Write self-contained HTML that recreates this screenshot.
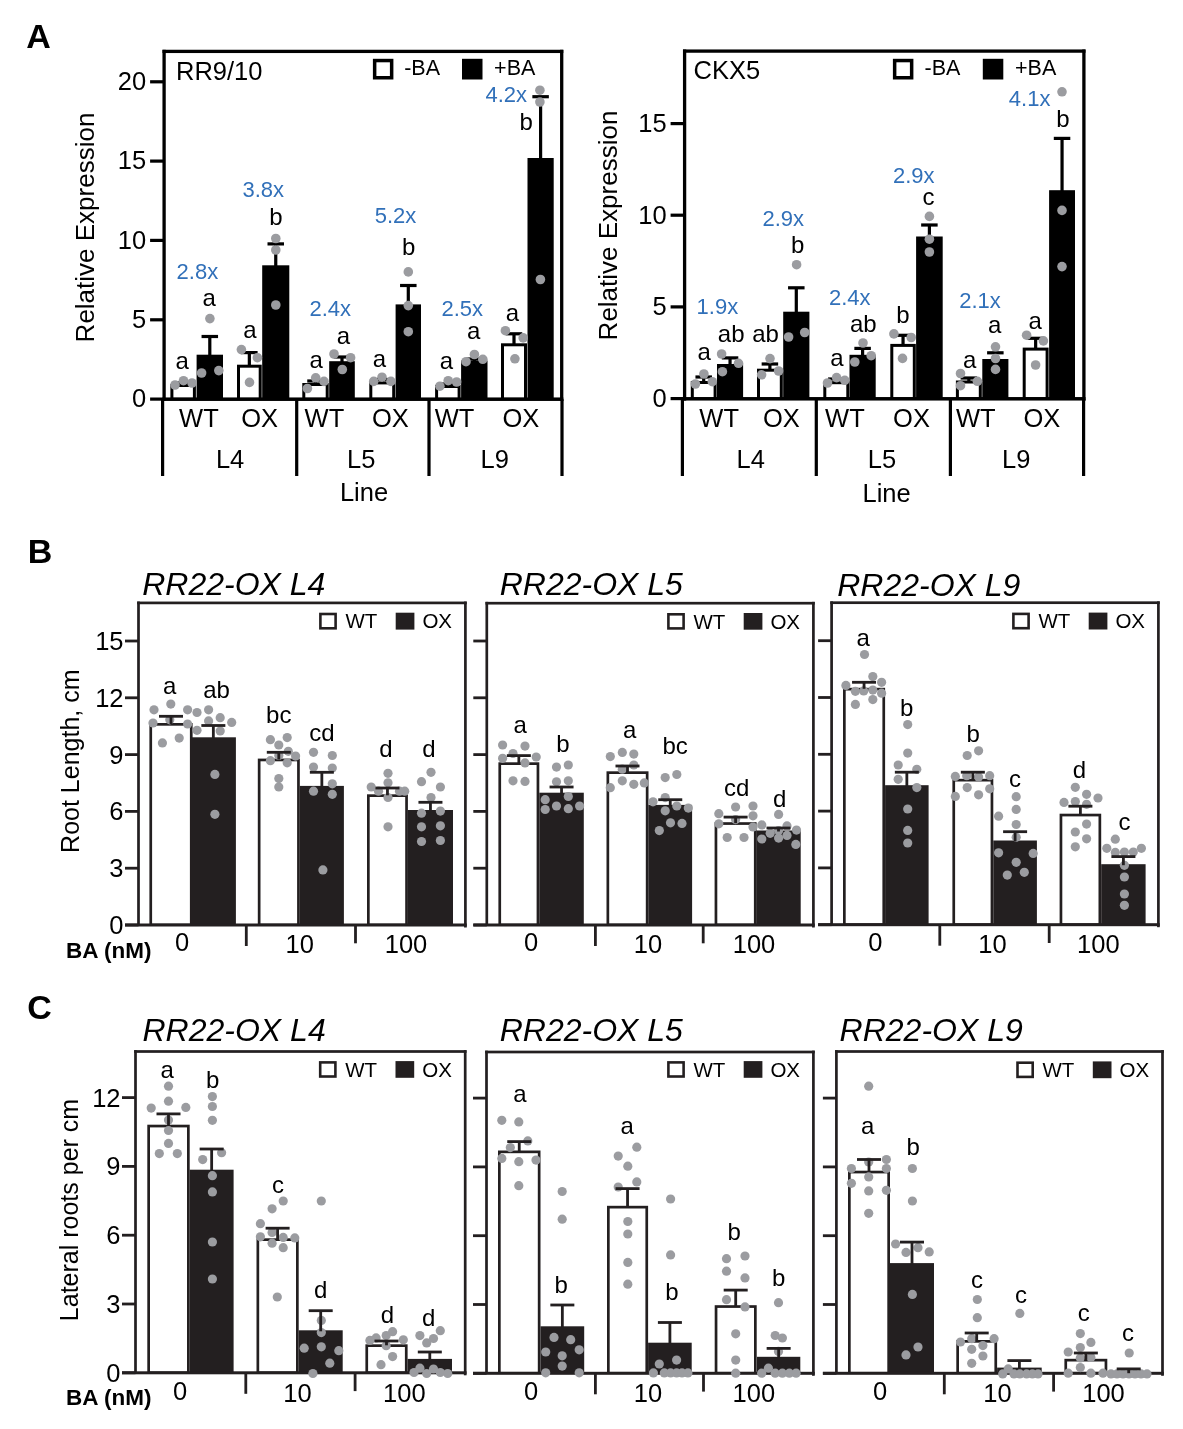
<!DOCTYPE html>
<html><head><meta charset="utf-8"><style>
html,body{margin:0;padding:0;background:#fff;overflow:hidden;width:1183px;height:1429px;}
svg{display:block;will-change:transform;}
text{font-family:"Liberation Sans", sans-serif;}
</style></head><body>
<svg width="1183" height="1429" viewBox="0 0 1183 1429">
<rect x="0" y="0" width="1183" height="1429" fill="#fff"/>
<text x="26.20" y="47.90" font-size="34" text-anchor="start" fill="#000" font-weight="bold" font-style="normal" >A</text>
<text x="27.80" y="562.70" font-size="34" text-anchor="start" fill="#000" font-weight="bold" font-style="normal" >B</text>
<text x="27.20" y="1019.20" font-size="34" text-anchor="start" fill="#000" font-weight="bold" font-style="normal" >C</text>
<rect x="170.40" y="384.00" width="25.50" height="15.20" fill="#000"/>
<rect x="173.40" y="387.00" width="19.50" height="10.80" fill="#fff"/>
<rect x="196.60" y="354.70" width="26.40" height="44.50" fill="#000"/>
<rect x="237.00" y="364.70" width="24.70" height="34.50" fill="#000"/>
<rect x="240.00" y="367.70" width="18.70" height="30.10" fill="#fff"/>
<rect x="262.20" y="265.30" width="27.10" height="133.90" fill="#000"/>
<rect x="302.30" y="383.00" width="26.40" height="16.20" fill="#000"/>
<rect x="305.30" y="386.00" width="20.40" height="11.80" fill="#fff"/>
<rect x="329.20" y="361.20" width="25.60" height="38.00" fill="#000"/>
<rect x="369.30" y="381.40" width="25.90" height="17.80" fill="#000"/>
<rect x="372.30" y="384.40" width="19.90" height="13.40" fill="#fff"/>
<rect x="395.60" y="304.40" width="25.40" height="94.80" fill="#000"/>
<rect x="435.10" y="385.00" width="25.50" height="14.20" fill="#000"/>
<rect x="438.10" y="388.00" width="19.50" height="9.80" fill="#fff"/>
<rect x="461.10" y="360.50" width="26.40" height="38.70" fill="#000"/>
<rect x="501.00" y="343.30" width="26.00" height="55.90" fill="#000"/>
<rect x="504.00" y="346.30" width="20.00" height="51.50" fill="#fff"/>
<rect x="527.50" y="158.00" width="26.20" height="241.20" fill="#000"/>
<rect x="162.45" y="49.80" width="3.30" height="351.20" fill="#000"/>
<rect x="560.05" y="49.80" width="3.30" height="351.20" fill="#000"/>
<rect x="162.50" y="49.75" width="400.80" height="3.30" fill="#000"/>
<rect x="162.50" y="397.45" width="400.80" height="3.50" fill="#000"/>
<rect x="181.55" y="383.00" width="3.20" height="2.00" fill="#000"/>
<rect x="174.90" y="381.40" width="16.50" height="3.20" fill="#000"/>
<text x="182.20" y="369.00" font-size="24" text-anchor="middle" fill="#000" font-weight="normal" font-style="normal" >a</text>
<rect x="208.20" y="336.50" width="3.20" height="19.20" fill="#000"/>
<rect x="201.55" y="334.90" width="16.50" height="3.20" fill="#000"/>
<text x="209.10" y="306.00" font-size="24" text-anchor="middle" fill="#000" font-weight="normal" font-style="normal" >a</text>
<rect x="247.75" y="352.60" width="3.20" height="13.10" fill="#000"/>
<rect x="241.10" y="351.00" width="16.50" height="3.20" fill="#000"/>
<text x="250.00" y="338.00" font-size="24" text-anchor="middle" fill="#000" font-weight="normal" font-style="normal" >a</text>
<rect x="274.15" y="243.90" width="3.20" height="22.40" fill="#000"/>
<rect x="267.50" y="242.30" width="16.50" height="3.20" fill="#000"/>
<text x="276.00" y="225.40" font-size="24" text-anchor="middle" fill="#000" font-weight="normal" font-style="normal" >b</text>
<rect x="313.90" y="381.00" width="3.20" height="3.00" fill="#000"/>
<rect x="307.25" y="379.40" width="16.50" height="3.20" fill="#000"/>
<text x="316.30" y="368.30" font-size="24" text-anchor="middle" fill="#000" font-weight="normal" font-style="normal" >a</text>
<rect x="340.40" y="357.00" width="3.20" height="5.20" fill="#000"/>
<rect x="333.75" y="355.40" width="16.50" height="3.20" fill="#000"/>
<text x="343.50" y="343.50" font-size="24" text-anchor="middle" fill="#000" font-weight="normal" font-style="normal" >a</text>
<rect x="380.65" y="379.50" width="3.20" height="2.90" fill="#000"/>
<rect x="374.00" y="377.90" width="16.50" height="3.20" fill="#000"/>
<text x="379.50" y="366.60" font-size="24" text-anchor="middle" fill="#000" font-weight="normal" font-style="normal" >a</text>
<rect x="406.70" y="285.50" width="3.20" height="19.90" fill="#000"/>
<rect x="400.05" y="283.90" width="16.50" height="3.20" fill="#000"/>
<text x="408.60" y="254.70" font-size="24" text-anchor="middle" fill="#000" font-weight="normal" font-style="normal" >b</text>
<rect x="446.25" y="384.00" width="3.20" height="2.00" fill="#000"/>
<rect x="439.60" y="382.40" width="16.50" height="3.20" fill="#000"/>
<text x="446.50" y="368.80" font-size="24" text-anchor="middle" fill="#000" font-weight="normal" font-style="normal" >a</text>
<rect x="472.70" y="359.00" width="3.20" height="2.50" fill="#000"/>
<rect x="466.05" y="357.40" width="16.50" height="3.20" fill="#000"/>
<text x="473.60" y="339.00" font-size="24" text-anchor="middle" fill="#000" font-weight="normal" font-style="normal" >a</text>
<rect x="512.40" y="333.80" width="3.20" height="10.50" fill="#000"/>
<rect x="505.75" y="332.20" width="16.50" height="3.20" fill="#000"/>
<text x="512.50" y="321.00" font-size="24" text-anchor="middle" fill="#000" font-weight="normal" font-style="normal" >a</text>
<rect x="539.00" y="96.70" width="3.20" height="62.30" fill="#000"/>
<rect x="532.35" y="95.10" width="16.50" height="3.20" fill="#000"/>
<text x="526.20" y="129.50" font-size="24" text-anchor="middle" fill="#000" font-weight="normal" font-style="normal" >b</text>
<circle cx="175.00" cy="385.00" r="4.8" fill="#9b9ca0"/>
<circle cx="183.50" cy="380.70" r="4.8" fill="#9b9ca0"/>
<circle cx="192.00" cy="383.00" r="4.8" fill="#9b9ca0"/>
<circle cx="201.60" cy="373.00" r="4.8" fill="#9b9ca0"/>
<circle cx="218.80" cy="370.60" r="4.8" fill="#9b9ca0"/>
<circle cx="209.90" cy="318.60" r="4.8" fill="#9b9ca0"/>
<circle cx="241.40" cy="349.60" r="4.8" fill="#9b9ca0"/>
<circle cx="257.40" cy="357.70" r="4.8" fill="#9b9ca0"/>
<circle cx="249.50" cy="382.40" r="4.8" fill="#9b9ca0"/>
<circle cx="275.80" cy="238.50" r="4.8" fill="#9b9ca0"/>
<circle cx="275.80" cy="250.00" r="4.8" fill="#9b9ca0"/>
<circle cx="275.80" cy="305.00" r="4.8" fill="#9b9ca0"/>
<circle cx="307.40" cy="388.50" r="4.8" fill="#9b9ca0"/>
<circle cx="315.70" cy="377.80" r="4.8" fill="#9b9ca0"/>
<circle cx="324.00" cy="381.40" r="4.8" fill="#9b9ca0"/>
<circle cx="334.00" cy="354.00" r="4.8" fill="#9b9ca0"/>
<circle cx="350.60" cy="357.70" r="4.8" fill="#9b9ca0"/>
<circle cx="342.30" cy="369.50" r="4.8" fill="#9b9ca0"/>
<circle cx="373.70" cy="381.40" r="4.8" fill="#9b9ca0"/>
<circle cx="382.00" cy="377.20" r="4.8" fill="#9b9ca0"/>
<circle cx="390.90" cy="381.40" r="4.8" fill="#9b9ca0"/>
<circle cx="408.30" cy="271.90" r="4.8" fill="#9b9ca0"/>
<circle cx="408.30" cy="305.60" r="4.8" fill="#9b9ca0"/>
<circle cx="408.30" cy="331.70" r="4.8" fill="#9b9ca0"/>
<circle cx="439.90" cy="386.20" r="4.8" fill="#9b9ca0"/>
<circle cx="448.20" cy="380.70" r="4.8" fill="#9b9ca0"/>
<circle cx="456.60" cy="382.00" r="4.8" fill="#9b9ca0"/>
<circle cx="466.00" cy="361.70" r="4.8" fill="#9b9ca0"/>
<circle cx="474.40" cy="354.50" r="4.8" fill="#9b9ca0"/>
<circle cx="482.80" cy="359.30" r="4.8" fill="#9b9ca0"/>
<circle cx="505.40" cy="330.70" r="4.8" fill="#9b9ca0"/>
<circle cx="523.20" cy="337.90" r="4.8" fill="#9b9ca0"/>
<circle cx="514.90" cy="358.80" r="4.8" fill="#9b9ca0"/>
<circle cx="539.90" cy="90.20" r="4.8" fill="#9b9ca0"/>
<circle cx="539.90" cy="102.00" r="4.8" fill="#9b9ca0"/>
<circle cx="540.40" cy="279.50" r="4.8" fill="#9b9ca0"/>
<text x="197.40" y="279.30" font-size="22" text-anchor="middle" fill="#3170b9" font-weight="normal" font-style="normal" >2.8x</text>
<text x="263.30" y="197.20" font-size="22" text-anchor="middle" fill="#3170b9" font-weight="normal" font-style="normal" >3.8x</text>
<text x="330.20" y="316.00" font-size="22" text-anchor="middle" fill="#3170b9" font-weight="normal" font-style="normal" >2.4x</text>
<text x="395.50" y="223.30" font-size="22" text-anchor="middle" fill="#3170b9" font-weight="normal" font-style="normal" >5.2x</text>
<text x="462.20" y="315.50" font-size="22" text-anchor="middle" fill="#3170b9" font-weight="normal" font-style="normal" >2.5x</text>
<text x="506.30" y="101.70" font-size="22" text-anchor="middle" fill="#3170b9" font-weight="normal" font-style="normal" >4.2x</text>
<rect x="150.10" y="80.20" width="14.00" height="3.20" fill="#000"/>
<text x="146.10" y="90.10" font-size="25.5" text-anchor="end" fill="#000" font-weight="normal" font-style="normal" >20</text>
<rect x="150.10" y="159.50" width="14.00" height="3.20" fill="#000"/>
<text x="146.10" y="169.40" font-size="25.5" text-anchor="end" fill="#000" font-weight="normal" font-style="normal" >15</text>
<rect x="150.10" y="238.80" width="14.00" height="3.20" fill="#000"/>
<text x="146.10" y="248.70" font-size="25.5" text-anchor="end" fill="#000" font-weight="normal" font-style="normal" >10</text>
<rect x="150.10" y="318.20" width="14.00" height="3.20" fill="#000"/>
<text x="146.10" y="328.10" font-size="25.5" text-anchor="end" fill="#000" font-weight="normal" font-style="normal" >5</text>
<rect x="150.10" y="397.50" width="14.00" height="3.20" fill="#000"/>
<text x="146.10" y="407.40" font-size="25.5" text-anchor="end" fill="#000" font-weight="normal" font-style="normal" >0</text>
<text x="0" y="0" font-size="26" text-anchor="middle" transform="translate(94,227.5) rotate(-90)">Relative Expression</text>
<text x="176.00" y="80.00" font-size="25.5" text-anchor="start" fill="#000" font-weight="normal" font-style="normal" >RR9/10</text>
<rect x="372.90" y="58.80" width="20.50" height="20.70" fill="#000"/>
<rect x="376.40" y="62.30" width="13.50" height="13.70" fill="#fff"/>
<text x="404.20" y="75.20" font-size="21.5" text-anchor="start" fill="#000" font-weight="normal" font-style="normal" >-BA</text>
<rect x="462.00" y="58.80" width="20.50" height="20.70" fill="#000"/>
<text x="494.10" y="75.20" font-size="21.5" text-anchor="start" fill="#000" font-weight="normal" font-style="normal" >+BA</text>
<rect x="161.00" y="399.20" width="3.20" height="76.80" fill="#000"/>
<rect x="295.10" y="399.20" width="3.20" height="76.80" fill="#000"/>
<rect x="427.40" y="399.20" width="3.20" height="76.80" fill="#000"/>
<rect x="560.40" y="399.20" width="3.20" height="76.80" fill="#000"/>
<text x="198.90" y="426.80" font-size="25.5" text-anchor="middle" fill="#000" font-weight="normal" font-style="normal" >WT</text>
<text x="259.70" y="426.80" font-size="25.5" text-anchor="middle" fill="#000" font-weight="normal" font-style="normal" >OX</text>
<text x="324.40" y="426.80" font-size="25.5" text-anchor="middle" fill="#000" font-weight="normal" font-style="normal" >WT</text>
<text x="390.40" y="426.80" font-size="25.5" text-anchor="middle" fill="#000" font-weight="normal" font-style="normal" >OX</text>
<text x="454.50" y="427.00" font-size="25.5" text-anchor="middle" fill="#000" font-weight="normal" font-style="normal" >WT</text>
<text x="520.80" y="427.00" font-size="25.5" text-anchor="middle" fill="#000" font-weight="normal" font-style="normal" >OX</text>
<text x="230.10" y="468.40" font-size="25.5" text-anchor="middle" fill="#000" font-weight="normal" font-style="normal" >L4</text>
<text x="361.30" y="468.40" font-size="25.5" text-anchor="middle" fill="#000" font-weight="normal" font-style="normal" >L5</text>
<text x="494.80" y="468.00" font-size="25.5" text-anchor="middle" fill="#000" font-weight="normal" font-style="normal" >L9</text>
<text x="364.00" y="500.80" font-size="25.5" text-anchor="middle" fill="#000" font-weight="normal" font-style="normal" >Line</text>
<rect x="690.80" y="381.00" width="25.80" height="17.80" fill="#000"/>
<rect x="693.80" y="384.00" width="19.80" height="13.40" fill="#fff"/>
<rect x="717.00" y="364.00" width="26.10" height="34.80" fill="#000"/>
<rect x="757.00" y="368.70" width="25.80" height="30.10" fill="#000"/>
<rect x="760.00" y="371.70" width="19.80" height="25.70" fill="#fff"/>
<rect x="783.20" y="311.70" width="26.20" height="87.10" fill="#000"/>
<rect x="823.30" y="381.20" width="26.00" height="17.60" fill="#000"/>
<rect x="826.30" y="384.20" width="20.00" height="13.20" fill="#fff"/>
<rect x="849.50" y="354.80" width="26.20" height="44.00" fill="#000"/>
<rect x="890.30" y="343.90" width="25.50" height="54.90" fill="#000"/>
<rect x="893.30" y="346.90" width="19.50" height="50.50" fill="#fff"/>
<rect x="916.10" y="236.50" width="26.60" height="162.30" fill="#000"/>
<rect x="955.90" y="380.50" width="25.90" height="18.30" fill="#000"/>
<rect x="958.90" y="383.50" width="19.90" height="13.90" fill="#fff"/>
<rect x="982.30" y="359.00" width="26.10" height="39.80" fill="#000"/>
<rect x="1022.70" y="347.60" width="25.90" height="51.20" fill="#000"/>
<rect x="1025.70" y="350.60" width="19.90" height="46.80" fill="#fff"/>
<rect x="1049.10" y="190.20" width="25.90" height="208.60" fill="#000"/>
<rect x="682.95" y="49.50" width="3.30" height="351.10" fill="#000"/>
<rect x="1082.25" y="49.50" width="3.30" height="351.10" fill="#000"/>
<rect x="683.00" y="49.45" width="402.50" height="3.30" fill="#000"/>
<rect x="683.00" y="397.05" width="402.50" height="3.50" fill="#000"/>
<rect x="702.10" y="377.00" width="3.20" height="5.00" fill="#000"/>
<rect x="695.45" y="375.40" width="16.50" height="3.20" fill="#000"/>
<text x="704.20" y="360.20" font-size="24" text-anchor="middle" fill="#000" font-weight="normal" font-style="normal" >a</text>
<rect x="728.45" y="357.90" width="3.20" height="7.10" fill="#000"/>
<rect x="721.80" y="356.30" width="16.50" height="3.20" fill="#000"/>
<text x="731.20" y="341.70" font-size="24" text-anchor="middle" fill="#000" font-weight="normal" font-style="normal" >ab</text>
<rect x="768.30" y="364.00" width="3.20" height="5.70" fill="#000"/>
<rect x="761.65" y="362.40" width="16.50" height="3.20" fill="#000"/>
<text x="765.50" y="341.70" font-size="24" text-anchor="middle" fill="#000" font-weight="normal" font-style="normal" >ab</text>
<rect x="794.70" y="287.80" width="3.20" height="24.90" fill="#000"/>
<rect x="788.05" y="286.20" width="16.50" height="3.20" fill="#000"/>
<text x="797.60" y="253.10" font-size="24" text-anchor="middle" fill="#000" font-weight="normal" font-style="normal" >b</text>
<rect x="834.70" y="379.00" width="3.20" height="3.20" fill="#000"/>
<rect x="828.05" y="377.40" width="16.50" height="3.20" fill="#000"/>
<text x="837.00" y="365.70" font-size="24" text-anchor="middle" fill="#000" font-weight="normal" font-style="normal" >a</text>
<rect x="861.00" y="348.40" width="3.20" height="7.40" fill="#000"/>
<rect x="854.35" y="346.80" width="16.50" height="3.20" fill="#000"/>
<text x="863.30" y="332.00" font-size="24" text-anchor="middle" fill="#000" font-weight="normal" font-style="normal" >ab</text>
<rect x="901.45" y="335.30" width="3.20" height="9.60" fill="#000"/>
<rect x="894.80" y="333.70" width="16.50" height="3.20" fill="#000"/>
<text x="903.00" y="323.00" font-size="24" text-anchor="middle" fill="#000" font-weight="normal" font-style="normal" >b</text>
<rect x="927.80" y="225.00" width="3.20" height="12.50" fill="#000"/>
<rect x="921.15" y="223.40" width="16.50" height="3.20" fill="#000"/>
<text x="928.50" y="204.60" font-size="24" text-anchor="middle" fill="#000" font-weight="normal" font-style="normal" >c</text>
<rect x="967.25" y="378.00" width="3.20" height="3.50" fill="#000"/>
<rect x="960.60" y="376.40" width="16.50" height="3.20" fill="#000"/>
<text x="969.80" y="367.50" font-size="24" text-anchor="middle" fill="#000" font-weight="normal" font-style="normal" >a</text>
<rect x="993.75" y="352.80" width="3.20" height="7.20" fill="#000"/>
<rect x="987.10" y="351.20" width="16.50" height="3.20" fill="#000"/>
<text x="994.60" y="332.60" font-size="24" text-anchor="middle" fill="#000" font-weight="normal" font-style="normal" >a</text>
<rect x="1034.05" y="338.30" width="3.20" height="10.30" fill="#000"/>
<rect x="1027.40" y="336.70" width="16.50" height="3.20" fill="#000"/>
<text x="1035.20" y="328.70" font-size="24" text-anchor="middle" fill="#000" font-weight="normal" font-style="normal" >a</text>
<rect x="1060.45" y="138.40" width="3.20" height="52.80" fill="#000"/>
<rect x="1053.80" y="136.80" width="16.50" height="3.20" fill="#000"/>
<text x="1062.90" y="126.70" font-size="24" text-anchor="middle" fill="#000" font-weight="normal" font-style="normal" >b</text>
<circle cx="695.40" cy="384.00" r="4.8" fill="#9b9ca0"/>
<circle cx="703.90" cy="374.00" r="4.8" fill="#9b9ca0"/>
<circle cx="712.30" cy="381.70" r="4.8" fill="#9b9ca0"/>
<circle cx="721.60" cy="354.00" r="4.8" fill="#9b9ca0"/>
<circle cx="738.50" cy="363.30" r="4.8" fill="#9b9ca0"/>
<circle cx="722.40" cy="371.70" r="4.8" fill="#9b9ca0"/>
<circle cx="770.00" cy="358.60" r="4.8" fill="#9b9ca0"/>
<circle cx="761.60" cy="374.80" r="4.8" fill="#9b9ca0"/>
<circle cx="778.60" cy="371.00" r="4.8" fill="#9b9ca0"/>
<circle cx="788.60" cy="337.00" r="4.8" fill="#9b9ca0"/>
<circle cx="804.70" cy="332.50" r="4.8" fill="#9b9ca0"/>
<circle cx="796.60" cy="264.70" r="4.8" fill="#9b9ca0"/>
<circle cx="827.50" cy="383.00" r="4.8" fill="#9b9ca0"/>
<circle cx="836.60" cy="377.60" r="4.8" fill="#9b9ca0"/>
<circle cx="844.80" cy="380.30" r="4.8" fill="#9b9ca0"/>
<circle cx="863.00" cy="343.00" r="4.8" fill="#9b9ca0"/>
<circle cx="871.20" cy="355.70" r="4.8" fill="#9b9ca0"/>
<circle cx="854.80" cy="362.00" r="4.8" fill="#9b9ca0"/>
<circle cx="893.90" cy="333.90" r="4.8" fill="#9b9ca0"/>
<circle cx="911.20" cy="337.50" r="4.8" fill="#9b9ca0"/>
<circle cx="902.50" cy="358.40" r="4.8" fill="#9b9ca0"/>
<circle cx="929.40" cy="216.40" r="4.8" fill="#9b9ca0"/>
<circle cx="929.40" cy="239.20" r="4.8" fill="#9b9ca0"/>
<circle cx="929.40" cy="252.00" r="4.8" fill="#9b9ca0"/>
<circle cx="960.50" cy="373.50" r="4.8" fill="#9b9ca0"/>
<circle cx="960.50" cy="385.70" r="4.8" fill="#9b9ca0"/>
<circle cx="977.40" cy="381.30" r="4.8" fill="#9b9ca0"/>
<circle cx="995.50" cy="346.80" r="4.8" fill="#9b9ca0"/>
<circle cx="995.50" cy="358.50" r="4.8" fill="#9b9ca0"/>
<circle cx="995.50" cy="369.40" r="4.8" fill="#9b9ca0"/>
<circle cx="1026.60" cy="335.20" r="4.8" fill="#9b9ca0"/>
<circle cx="1043.40" cy="340.90" r="4.8" fill="#9b9ca0"/>
<circle cx="1035.60" cy="365.00" r="4.8" fill="#9b9ca0"/>
<circle cx="1062.00" cy="91.80" r="4.8" fill="#9b9ca0"/>
<circle cx="1062.00" cy="210.40" r="4.8" fill="#9b9ca0"/>
<circle cx="1062.00" cy="266.60" r="4.8" fill="#9b9ca0"/>
<text x="717.40" y="314.30" font-size="22" text-anchor="middle" fill="#3170b9" font-weight="normal" font-style="normal" >1.9x</text>
<text x="783.20" y="225.70" font-size="22" text-anchor="middle" fill="#3170b9" font-weight="normal" font-style="normal" >2.9x</text>
<text x="849.80" y="305.00" font-size="22" text-anchor="middle" fill="#3170b9" font-weight="normal" font-style="normal" >2.4x</text>
<text x="913.70" y="183.10" font-size="22" text-anchor="middle" fill="#3170b9" font-weight="normal" font-style="normal" >2.9x</text>
<text x="980.00" y="308.30" font-size="22" text-anchor="middle" fill="#3170b9" font-weight="normal" font-style="normal" >2.1x</text>
<text x="1029.60" y="106.30" font-size="22" text-anchor="middle" fill="#3170b9" font-weight="normal" font-style="normal" >4.1x</text>
<rect x="670.60" y="122.00" width="14.00" height="3.20" fill="#000"/>
<text x="666.60" y="131.90" font-size="25.5" text-anchor="end" fill="#000" font-weight="normal" font-style="normal" >15</text>
<rect x="670.60" y="213.60" width="14.00" height="3.20" fill="#000"/>
<text x="666.60" y="223.50" font-size="25.5" text-anchor="end" fill="#000" font-weight="normal" font-style="normal" >10</text>
<rect x="670.60" y="305.30" width="14.00" height="3.20" fill="#000"/>
<text x="666.60" y="315.20" font-size="25.5" text-anchor="end" fill="#000" font-weight="normal" font-style="normal" >5</text>
<rect x="670.60" y="397.00" width="14.00" height="3.20" fill="#000"/>
<text x="666.60" y="406.90" font-size="25.5" text-anchor="end" fill="#000" font-weight="normal" font-style="normal" >0</text>
<text x="0" y="0" font-size="26" text-anchor="middle" transform="translate(617,225.5) rotate(-90)">Relative Expression</text>
<text x="693.50" y="78.50" font-size="25.5" text-anchor="start" fill="#000" font-weight="normal" font-style="normal" >CKX5</text>
<rect x="892.90" y="58.80" width="20.50" height="20.70" fill="#000"/>
<rect x="896.40" y="62.30" width="13.50" height="13.70" fill="#fff"/>
<text x="924.60" y="75.20" font-size="21.5" text-anchor="start" fill="#000" font-weight="normal" font-style="normal" >-BA</text>
<rect x="982.80" y="58.80" width="20.50" height="20.70" fill="#000"/>
<text x="1015.00" y="75.20" font-size="21.5" text-anchor="start" fill="#000" font-weight="normal" font-style="normal" >+BA</text>
<rect x="680.80" y="398.80" width="3.20" height="77.20" fill="#000"/>
<rect x="814.70" y="398.80" width="3.20" height="77.20" fill="#000"/>
<rect x="948.80" y="398.80" width="3.20" height="77.20" fill="#000"/>
<rect x="1082.00" y="398.80" width="3.20" height="77.20" fill="#000"/>
<text x="719.20" y="427.00" font-size="25.5" text-anchor="middle" fill="#000" font-weight="normal" font-style="normal" >WT</text>
<text x="781.30" y="427.00" font-size="25.5" text-anchor="middle" fill="#000" font-weight="normal" font-style="normal" >OX</text>
<text x="844.90" y="427.00" font-size="25.5" text-anchor="middle" fill="#000" font-weight="normal" font-style="normal" >WT</text>
<text x="911.50" y="427.00" font-size="25.5" text-anchor="middle" fill="#000" font-weight="normal" font-style="normal" >OX</text>
<text x="975.80" y="427.00" font-size="25.5" text-anchor="middle" fill="#000" font-weight="normal" font-style="normal" >WT</text>
<text x="1041.90" y="427.00" font-size="25.5" text-anchor="middle" fill="#000" font-weight="normal" font-style="normal" >OX</text>
<text x="750.70" y="467.80" font-size="25.5" text-anchor="middle" fill="#000" font-weight="normal" font-style="normal" >L4</text>
<text x="881.90" y="467.80" font-size="25.5" text-anchor="middle" fill="#000" font-weight="normal" font-style="normal" >L5</text>
<text x="1016.20" y="467.80" font-size="25.5" text-anchor="middle" fill="#000" font-weight="normal" font-style="normal" >L9</text>
<text x="886.60" y="501.50" font-size="25.5" text-anchor="middle" fill="#000" font-weight="normal" font-style="normal" >Line</text>
<rect x="149.40" y="723.00" width="43.20" height="202.00" fill="#231f20"/>
<rect x="152.10" y="725.70" width="37.80" height="197.90" fill="#fff"/>
<rect x="190.80" y="737.30" width="45.10" height="187.70" fill="#231f20"/>
<rect x="257.80" y="758.60" width="42.00" height="166.40" fill="#231f20"/>
<rect x="260.50" y="761.30" width="36.60" height="162.30" fill="#fff"/>
<rect x="299.80" y="785.90" width="44.10" height="139.10" fill="#231f20"/>
<rect x="367.00" y="794.30" width="40.90" height="130.70" fill="#231f20"/>
<rect x="369.70" y="797.00" width="35.50" height="126.60" fill="#fff"/>
<rect x="407.90" y="810.00" width="45.10" height="115.00" fill="#231f20"/>
<rect x="137.15" y="601.55" width="2.70" height="323.45" fill="#231f20"/>
<rect x="464.05" y="601.55" width="2.70" height="325.95" fill="#231f20"/>
<rect x="137.15" y="601.55" width="329.60" height="2.70" fill="#231f20"/>
<rect x="125.00" y="923.50" width="341.75" height="3.00" fill="#231f20"/>
<rect x="125.00" y="923.60" width="13.50" height="2.80" fill="#231f20"/>
<text x="123.50" y="934.00" font-size="25.5" text-anchor="end" fill="#000" font-weight="normal" font-style="normal" >0</text>
<rect x="125.00" y="866.80" width="13.50" height="2.80" fill="#231f20"/>
<text x="123.50" y="877.20" font-size="25.5" text-anchor="end" fill="#000" font-weight="normal" font-style="normal" >3</text>
<rect x="125.00" y="810.00" width="13.50" height="2.80" fill="#231f20"/>
<text x="123.50" y="820.40" font-size="25.5" text-anchor="end" fill="#000" font-weight="normal" font-style="normal" >6</text>
<rect x="125.00" y="753.20" width="13.50" height="2.80" fill="#231f20"/>
<text x="123.50" y="763.60" font-size="25.5" text-anchor="end" fill="#000" font-weight="normal" font-style="normal" >9</text>
<rect x="125.00" y="696.40" width="13.50" height="2.80" fill="#231f20"/>
<text x="123.50" y="706.80" font-size="25.5" text-anchor="end" fill="#000" font-weight="normal" font-style="normal" >12</text>
<rect x="125.00" y="639.60" width="13.50" height="2.80" fill="#231f20"/>
<text x="123.50" y="650.00" font-size="25.5" text-anchor="end" fill="#000" font-weight="normal" font-style="normal" >15</text>
<rect x="244.90" y="925.00" width="2.80" height="21.00" fill="#231f20"/>
<rect x="354.10" y="925.00" width="2.80" height="18.30" fill="#231f20"/>
<circle cx="154.00" cy="709.80" r="4.6" fill="#9b9ca0"/>
<circle cx="170.80" cy="704.10" r="4.6" fill="#9b9ca0"/>
<circle cx="187.60" cy="709.80" r="4.6" fill="#9b9ca0"/>
<circle cx="153.00" cy="723.00" r="4.6" fill="#9b9ca0"/>
<circle cx="187.60" cy="724.00" r="4.6" fill="#9b9ca0"/>
<circle cx="162.40" cy="742.90" r="4.6" fill="#9b9ca0"/>
<circle cx="179.20" cy="738.10" r="4.6" fill="#9b9ca0"/>
<circle cx="169.80" cy="719.80" r="4.6" fill="#9b9ca0"/>
<circle cx="197.00" cy="712.50" r="4.6" fill="#9b9ca0"/>
<circle cx="208.60" cy="709.80" r="4.6" fill="#9b9ca0"/>
<circle cx="220.20" cy="717.70" r="4.6" fill="#9b9ca0"/>
<circle cx="231.70" cy="722.40" r="4.6" fill="#9b9ca0"/>
<circle cx="197.00" cy="730.30" r="4.6" fill="#9b9ca0"/>
<circle cx="208.60" cy="720.90" r="4.6" fill="#9b9ca0"/>
<circle cx="220.20" cy="731.00" r="4.6" fill="#9b9ca0"/>
<circle cx="214.90" cy="774.40" r="4.6" fill="#9b9ca0"/>
<circle cx="214.90" cy="814.30" r="4.6" fill="#9b9ca0"/>
<circle cx="270.40" cy="739.70" r="4.6" fill="#9b9ca0"/>
<circle cx="287.20" cy="737.60" r="4.6" fill="#9b9ca0"/>
<circle cx="278.80" cy="745.00" r="4.6" fill="#9b9ca0"/>
<circle cx="295.60" cy="756.10" r="4.6" fill="#9b9ca0"/>
<circle cx="270.40" cy="760.70" r="4.6" fill="#9b9ca0"/>
<circle cx="287.20" cy="762.80" r="4.6" fill="#9b9ca0"/>
<circle cx="278.80" cy="778.60" r="4.6" fill="#9b9ca0"/>
<circle cx="278.80" cy="787.00" r="4.6" fill="#9b9ca0"/>
<circle cx="288.30" cy="751.30" r="4.6" fill="#9b9ca0"/>
<circle cx="278.80" cy="755.50" r="4.6" fill="#9b9ca0"/>
<circle cx="313.50" cy="752.30" r="4.6" fill="#9b9ca0"/>
<circle cx="332.30" cy="755.50" r="4.6" fill="#9b9ca0"/>
<circle cx="313.50" cy="767.00" r="4.6" fill="#9b9ca0"/>
<circle cx="332.30" cy="768.00" r="4.6" fill="#9b9ca0"/>
<circle cx="332.30" cy="783.80" r="4.6" fill="#9b9ca0"/>
<circle cx="313.50" cy="791.20" r="4.6" fill="#9b9ca0"/>
<circle cx="332.30" cy="794.30" r="4.6" fill="#9b9ca0"/>
<circle cx="322.90" cy="869.90" r="4.6" fill="#9b9ca0"/>
<circle cx="388.00" cy="773.30" r="4.6" fill="#9b9ca0"/>
<circle cx="371.20" cy="787.00" r="4.6" fill="#9b9ca0"/>
<circle cx="388.00" cy="782.80" r="4.6" fill="#9b9ca0"/>
<circle cx="378.50" cy="791.20" r="4.6" fill="#9b9ca0"/>
<circle cx="399.50" cy="791.20" r="4.6" fill="#9b9ca0"/>
<circle cx="404.70" cy="791.20" r="4.6" fill="#9b9ca0"/>
<circle cx="388.00" cy="797.50" r="4.6" fill="#9b9ca0"/>
<circle cx="388.00" cy="826.80" r="4.6" fill="#9b9ca0"/>
<circle cx="431.00" cy="772.30" r="4.6" fill="#9b9ca0"/>
<circle cx="421.50" cy="781.70" r="4.6" fill="#9b9ca0"/>
<circle cx="440.40" cy="787.00" r="4.6" fill="#9b9ca0"/>
<circle cx="431.00" cy="797.50" r="4.6" fill="#9b9ca0"/>
<circle cx="421.50" cy="813.20" r="4.6" fill="#9b9ca0"/>
<circle cx="440.40" cy="811.10" r="4.6" fill="#9b9ca0"/>
<circle cx="421.50" cy="826.80" r="4.6" fill="#9b9ca0"/>
<circle cx="440.40" cy="825.80" r="4.6" fill="#9b9ca0"/>
<circle cx="421.50" cy="841.50" r="4.6" fill="#9b9ca0"/>
<circle cx="440.40" cy="840.50" r="4.6" fill="#9b9ca0"/>
<rect x="169.60" y="716.30" width="2.80" height="7.70" fill="#231f20"/>
<rect x="159.00" y="714.90" width="24.00" height="2.80" fill="#231f20"/>
<text x="169.80" y="693.60" font-size="24" text-anchor="middle" fill="#000" font-weight="normal" font-style="normal" >a</text>
<rect x="211.95" y="725.50" width="2.80" height="12.80" fill="#231f20"/>
<rect x="201.35" y="724.10" width="24.00" height="2.80" fill="#231f20"/>
<text x="216.50" y="697.80" font-size="24" text-anchor="middle" fill="#000" font-weight="normal" font-style="normal" >ab</text>
<rect x="277.40" y="752.30" width="2.80" height="7.30" fill="#231f20"/>
<rect x="266.80" y="750.90" width="24.00" height="2.80" fill="#231f20"/>
<text x="278.80" y="723.00" font-size="24" text-anchor="middle" fill="#000" font-weight="normal" font-style="normal" >bc</text>
<rect x="320.45" y="772.30" width="2.80" height="14.60" fill="#231f20"/>
<rect x="309.85" y="770.90" width="24.00" height="2.80" fill="#231f20"/>
<text x="321.90" y="740.80" font-size="24" text-anchor="middle" fill="#000" font-weight="normal" font-style="normal" >cd</text>
<rect x="386.05" y="788.00" width="2.80" height="7.30" fill="#231f20"/>
<rect x="375.45" y="786.60" width="24.00" height="2.80" fill="#231f20"/>
<text x="385.90" y="756.50" font-size="24" text-anchor="middle" fill="#000" font-weight="normal" font-style="normal" >d</text>
<rect x="429.05" y="802.30" width="2.80" height="8.70" fill="#231f20"/>
<rect x="418.45" y="800.90" width="24.00" height="2.80" fill="#231f20"/>
<text x="428.90" y="756.50" font-size="24" text-anchor="middle" fill="#000" font-weight="normal" font-style="normal" >d</text>
<text x="182.20" y="951.10" font-size="25.5" text-anchor="middle" fill="#000" font-weight="normal" font-style="normal" >0</text>
<text x="299.80" y="952.90" font-size="25.5" text-anchor="middle" fill="#000" font-weight="normal" font-style="normal" >10</text>
<text x="406.00" y="952.90" font-size="25.5" text-anchor="middle" fill="#000" font-weight="normal" font-style="normal" >100</text>
<text x="142.20" y="595.00" font-size="32" text-anchor="start" fill="#000" font-weight="normal" font-style="italic" >RR22-OX L4</text>
<rect x="319.10" y="612.70" width="17.80" height="16.90" fill="#231f20"/>
<rect x="321.70" y="615.30" width="12.60" height="11.70" fill="#fff"/>
<text x="345.40" y="628.40" font-size="20.5" text-anchor="start" fill="#000" font-weight="normal" font-style="normal" >WT</text>
<rect x="395.70" y="612.70" width="18.70" height="16.90" fill="#231f20"/>
<text x="422.40" y="628.40" font-size="20.5" text-anchor="start" fill="#000" font-weight="normal" font-style="normal" >OX</text>
<rect x="498.40" y="762.30" width="40.90" height="162.70" fill="#231f20"/>
<rect x="501.10" y="765.00" width="35.50" height="158.60" fill="#fff"/>
<rect x="539.30" y="792.70" width="44.50" height="132.30" fill="#231f20"/>
<rect x="606.50" y="771.30" width="42.00" height="153.70" fill="#231f20"/>
<rect x="609.20" y="774.00" width="36.60" height="149.60" fill="#fff"/>
<rect x="648.40" y="804.90" width="43.70" height="120.10" fill="#231f20"/>
<rect x="714.60" y="822.20" width="42.00" height="102.80" fill="#231f20"/>
<rect x="717.30" y="824.90" width="36.60" height="98.70" fill="#fff"/>
<rect x="756.30" y="830.50" width="44.40" height="94.50" fill="#231f20"/>
<rect x="485.45" y="601.85" width="2.70" height="323.15" fill="#231f20"/>
<rect x="812.05" y="601.85" width="2.70" height="325.65" fill="#231f20"/>
<rect x="485.45" y="601.85" width="329.30" height="2.70" fill="#231f20"/>
<rect x="473.30" y="923.50" width="341.45" height="3.00" fill="#231f20"/>
<rect x="473.30" y="923.60" width="13.50" height="2.80" fill="#231f20"/>
<rect x="473.30" y="866.80" width="13.50" height="2.80" fill="#231f20"/>
<rect x="473.30" y="810.00" width="13.50" height="2.80" fill="#231f20"/>
<rect x="473.30" y="753.20" width="13.50" height="2.80" fill="#231f20"/>
<rect x="473.30" y="696.40" width="13.50" height="2.80" fill="#231f20"/>
<rect x="473.30" y="639.60" width="13.50" height="2.80" fill="#231f20"/>
<rect x="594.00" y="925.00" width="2.80" height="21.00" fill="#231f20"/>
<rect x="701.80" y="925.00" width="2.80" height="18.30" fill="#231f20"/>
<circle cx="502.60" cy="745.00" r="4.6" fill="#9b9ca0"/>
<circle cx="525.00" cy="746.10" r="4.6" fill="#9b9ca0"/>
<circle cx="513.00" cy="753.50" r="4.6" fill="#9b9ca0"/>
<circle cx="502.60" cy="758.30" r="4.6" fill="#9b9ca0"/>
<circle cx="525.00" cy="762.90" r="4.6" fill="#9b9ca0"/>
<circle cx="536.20" cy="757.00" r="4.6" fill="#9b9ca0"/>
<circle cx="513.00" cy="780.80" r="4.6" fill="#9b9ca0"/>
<circle cx="525.00" cy="781.40" r="4.6" fill="#9b9ca0"/>
<circle cx="556.50" cy="767.10" r="4.6" fill="#9b9ca0"/>
<circle cx="568.30" cy="765.00" r="4.6" fill="#9b9ca0"/>
<circle cx="556.50" cy="781.80" r="4.6" fill="#9b9ca0"/>
<circle cx="568.30" cy="780.80" r="4.6" fill="#9b9ca0"/>
<circle cx="568.30" cy="796.50" r="4.6" fill="#9b9ca0"/>
<circle cx="545.20" cy="799.70" r="4.6" fill="#9b9ca0"/>
<circle cx="556.50" cy="806.00" r="4.6" fill="#9b9ca0"/>
<circle cx="568.30" cy="808.70" r="4.6" fill="#9b9ca0"/>
<circle cx="579.60" cy="806.00" r="4.6" fill="#9b9ca0"/>
<circle cx="545.20" cy="809.50" r="4.6" fill="#9b9ca0"/>
<circle cx="610.30" cy="756.60" r="4.6" fill="#9b9ca0"/>
<circle cx="622.30" cy="752.40" r="4.6" fill="#9b9ca0"/>
<circle cx="633.80" cy="754.10" r="4.6" fill="#9b9ca0"/>
<circle cx="633.80" cy="765.00" r="4.6" fill="#9b9ca0"/>
<circle cx="622.30" cy="769.20" r="4.6" fill="#9b9ca0"/>
<circle cx="622.30" cy="780.80" r="4.6" fill="#9b9ca0"/>
<circle cx="610.30" cy="787.70" r="4.6" fill="#9b9ca0"/>
<circle cx="633.80" cy="784.30" r="4.6" fill="#9b9ca0"/>
<circle cx="644.30" cy="782.90" r="4.6" fill="#9b9ca0"/>
<circle cx="665.20" cy="777.60" r="4.6" fill="#9b9ca0"/>
<circle cx="676.80" cy="774.50" r="4.6" fill="#9b9ca0"/>
<circle cx="665.20" cy="797.60" r="4.6" fill="#9b9ca0"/>
<circle cx="653.00" cy="801.80" r="4.6" fill="#9b9ca0"/>
<circle cx="676.80" cy="806.00" r="4.6" fill="#9b9ca0"/>
<circle cx="688.30" cy="808.10" r="4.6" fill="#9b9ca0"/>
<circle cx="665.20" cy="810.80" r="4.6" fill="#9b9ca0"/>
<circle cx="670.50" cy="822.80" r="4.6" fill="#9b9ca0"/>
<circle cx="682.00" cy="823.40" r="4.6" fill="#9b9ca0"/>
<circle cx="659.30" cy="830.60" r="4.6" fill="#9b9ca0"/>
<circle cx="735.60" cy="807.00" r="4.6" fill="#9b9ca0"/>
<circle cx="753.00" cy="806.00" r="4.6" fill="#9b9ca0"/>
<circle cx="718.80" cy="813.70" r="4.6" fill="#9b9ca0"/>
<circle cx="753.00" cy="815.80" r="4.6" fill="#9b9ca0"/>
<circle cx="735.60" cy="819.60" r="4.6" fill="#9b9ca0"/>
<circle cx="718.80" cy="823.80" r="4.6" fill="#9b9ca0"/>
<circle cx="753.00" cy="827.00" r="4.6" fill="#9b9ca0"/>
<circle cx="727.20" cy="837.50" r="4.6" fill="#9b9ca0"/>
<circle cx="744.00" cy="837.50" r="4.6" fill="#9b9ca0"/>
<circle cx="778.60" cy="814.40" r="4.6" fill="#9b9ca0"/>
<circle cx="761.80" cy="824.90" r="4.6" fill="#9b9ca0"/>
<circle cx="787.00" cy="825.90" r="4.6" fill="#9b9ca0"/>
<circle cx="796.50" cy="830.10" r="4.6" fill="#9b9ca0"/>
<circle cx="770.20" cy="833.30" r="4.6" fill="#9b9ca0"/>
<circle cx="778.60" cy="830.60" r="4.6" fill="#9b9ca0"/>
<circle cx="787.00" cy="835.40" r="4.6" fill="#9b9ca0"/>
<circle cx="761.80" cy="839.00" r="4.6" fill="#9b9ca0"/>
<circle cx="778.60" cy="838.10" r="4.6" fill="#9b9ca0"/>
<circle cx="795.80" cy="844.40" r="4.6" fill="#9b9ca0"/>
<rect x="517.45" y="755.60" width="2.80" height="7.70" fill="#231f20"/>
<rect x="506.85" y="754.20" width="24.00" height="2.80" fill="#231f20"/>
<text x="520.20" y="732.50" font-size="24" text-anchor="middle" fill="#000" font-weight="normal" font-style="normal" >a</text>
<rect x="560.15" y="787.00" width="2.80" height="6.70" fill="#231f20"/>
<rect x="549.55" y="785.60" width="24.00" height="2.80" fill="#231f20"/>
<text x="563.00" y="752.40" font-size="24" text-anchor="middle" fill="#000" font-weight="normal" font-style="normal" >b</text>
<rect x="626.10" y="766.00" width="2.80" height="6.30" fill="#231f20"/>
<rect x="615.50" y="764.60" width="24.00" height="2.80" fill="#231f20"/>
<text x="629.70" y="737.70" font-size="24" text-anchor="middle" fill="#000" font-weight="normal" font-style="normal" >a</text>
<rect x="668.85" y="799.70" width="2.80" height="6.20" fill="#231f20"/>
<rect x="658.25" y="798.30" width="24.00" height="2.80" fill="#231f20"/>
<text x="675.20" y="753.50" font-size="24" text-anchor="middle" fill="#000" font-weight="normal" font-style="normal" >bc</text>
<rect x="734.20" y="817.10" width="2.80" height="6.10" fill="#231f20"/>
<rect x="723.60" y="815.70" width="24.00" height="2.80" fill="#231f20"/>
<text x="736.60" y="795.50" font-size="24" text-anchor="middle" fill="#000" font-weight="normal" font-style="normal" >cd</text>
<rect x="777.10" y="828.00" width="2.80" height="3.50" fill="#231f20"/>
<rect x="766.50" y="826.60" width="24.00" height="2.80" fill="#231f20"/>
<text x="779.70" y="807.00" font-size="24" text-anchor="middle" fill="#000" font-weight="normal" font-style="normal" >d</text>
<text x="531.00" y="951.10" font-size="25.5" text-anchor="middle" fill="#000" font-weight="normal" font-style="normal" >0</text>
<text x="648.00" y="952.90" font-size="25.5" text-anchor="middle" fill="#000" font-weight="normal" font-style="normal" >10</text>
<text x="754.00" y="952.90" font-size="25.5" text-anchor="middle" fill="#000" font-weight="normal" font-style="normal" >100</text>
<text x="499.70" y="595.10" font-size="32" text-anchor="start" fill="#000" font-weight="normal" font-style="italic" >RR22-OX L5</text>
<rect x="667.10" y="613.00" width="17.80" height="16.70" fill="#231f20"/>
<rect x="669.70" y="615.60" width="12.60" height="11.50" fill="#fff"/>
<text x="693.40" y="628.50" font-size="20.5" text-anchor="start" fill="#000" font-weight="normal" font-style="normal" >WT</text>
<rect x="743.70" y="613.00" width="18.70" height="16.70" fill="#231f20"/>
<text x="770.40" y="628.50" font-size="20.5" text-anchor="start" fill="#000" font-weight="normal" font-style="normal" >OX</text>
<rect x="843.00" y="687.80" width="42.10" height="236.90" fill="#231f20"/>
<rect x="845.70" y="690.50" width="36.70" height="232.80" fill="#fff"/>
<rect x="885.10" y="785.20" width="43.50" height="139.50" fill="#231f20"/>
<rect x="952.40" y="778.80" width="40.90" height="145.90" fill="#231f20"/>
<rect x="955.10" y="781.50" width="35.50" height="141.80" fill="#fff"/>
<rect x="993.30" y="840.50" width="43.60" height="84.20" fill="#231f20"/>
<rect x="1059.60" y="813.70" width="41.60" height="111.00" fill="#231f20"/>
<rect x="1062.30" y="816.40" width="36.20" height="106.90" fill="#fff"/>
<rect x="1101.20" y="864.20" width="44.40" height="60.50" fill="#231f20"/>
<rect x="830.25" y="601.35" width="2.70" height="323.35" fill="#231f20"/>
<rect x="1157.05" y="601.35" width="2.70" height="325.85" fill="#231f20"/>
<rect x="830.25" y="601.35" width="329.50" height="2.70" fill="#231f20"/>
<rect x="818.10" y="923.20" width="341.65" height="3.00" fill="#231f20"/>
<rect x="818.10" y="923.30" width="13.50" height="2.80" fill="#231f20"/>
<rect x="818.10" y="866.50" width="13.50" height="2.80" fill="#231f20"/>
<rect x="818.10" y="809.70" width="13.50" height="2.80" fill="#231f20"/>
<rect x="818.10" y="752.90" width="13.50" height="2.80" fill="#231f20"/>
<rect x="818.10" y="696.10" width="13.50" height="2.80" fill="#231f20"/>
<rect x="818.10" y="639.30" width="13.50" height="2.80" fill="#231f20"/>
<rect x="938.40" y="924.70" width="2.80" height="21.00" fill="#231f20"/>
<rect x="1047.80" y="924.70" width="2.80" height="18.30" fill="#231f20"/>
<circle cx="864.50" cy="654.50" r="4.6" fill="#9b9ca0"/>
<circle cx="872.80" cy="676.60" r="4.6" fill="#9b9ca0"/>
<circle cx="845.90" cy="685.40" r="4.6" fill="#9b9ca0"/>
<circle cx="881.60" cy="682.30" r="4.6" fill="#9b9ca0"/>
<circle cx="855.40" cy="691.30" r="4.6" fill="#9b9ca0"/>
<circle cx="863.70" cy="690.90" r="4.6" fill="#9b9ca0"/>
<circle cx="872.80" cy="690.10" r="4.6" fill="#9b9ca0"/>
<circle cx="881.60" cy="693.20" r="4.6" fill="#9b9ca0"/>
<circle cx="855.40" cy="704.40" r="4.6" fill="#9b9ca0"/>
<circle cx="872.80" cy="699.60" r="4.6" fill="#9b9ca0"/>
<circle cx="907.70" cy="724.60" r="4.6" fill="#9b9ca0"/>
<circle cx="907.70" cy="753.10" r="4.6" fill="#9b9ca0"/>
<circle cx="898.20" cy="765.00" r="4.6" fill="#9b9ca0"/>
<circle cx="916.80" cy="769.30" r="4.6" fill="#9b9ca0"/>
<circle cx="898.20" cy="779.30" r="4.6" fill="#9b9ca0"/>
<circle cx="916.80" cy="787.60" r="4.6" fill="#9b9ca0"/>
<circle cx="907.70" cy="809.00" r="4.6" fill="#9b9ca0"/>
<circle cx="907.70" cy="830.40" r="4.6" fill="#9b9ca0"/>
<circle cx="907.70" cy="843.00" r="4.6" fill="#9b9ca0"/>
<circle cx="967.20" cy="755.50" r="4.6" fill="#9b9ca0"/>
<circle cx="978.60" cy="750.80" r="4.6" fill="#9b9ca0"/>
<circle cx="955.30" cy="776.40" r="4.6" fill="#9b9ca0"/>
<circle cx="966.70" cy="775.70" r="4.6" fill="#9b9ca0"/>
<circle cx="978.60" cy="776.90" r="4.6" fill="#9b9ca0"/>
<circle cx="989.70" cy="775.70" r="4.6" fill="#9b9ca0"/>
<circle cx="967.20" cy="787.60" r="4.6" fill="#9b9ca0"/>
<circle cx="989.70" cy="788.80" r="4.6" fill="#9b9ca0"/>
<circle cx="955.30" cy="796.40" r="4.6" fill="#9b9ca0"/>
<circle cx="978.60" cy="794.80" r="4.6" fill="#9b9ca0"/>
<circle cx="1016.20" cy="796.70" r="4.6" fill="#9b9ca0"/>
<circle cx="1016.20" cy="809.40" r="4.6" fill="#9b9ca0"/>
<circle cx="998.60" cy="816.20" r="4.6" fill="#9b9ca0"/>
<circle cx="1016.20" cy="824.50" r="4.6" fill="#9b9ca0"/>
<circle cx="1016.20" cy="837.30" r="4.6" fill="#9b9ca0"/>
<circle cx="998.60" cy="852.80" r="4.6" fill="#9b9ca0"/>
<circle cx="1033.20" cy="853.40" r="4.6" fill="#9b9ca0"/>
<circle cx="1016.20" cy="862.30" r="4.6" fill="#9b9ca0"/>
<circle cx="1007.30" cy="875.10" r="4.6" fill="#9b9ca0"/>
<circle cx="1024.30" cy="872.30" r="4.6" fill="#9b9ca0"/>
<circle cx="1075.30" cy="787.30" r="4.6" fill="#9b9ca0"/>
<circle cx="1086.60" cy="794.30" r="4.6" fill="#9b9ca0"/>
<circle cx="1098.00" cy="798.00" r="4.6" fill="#9b9ca0"/>
<circle cx="1064.00" cy="802.40" r="4.6" fill="#9b9ca0"/>
<circle cx="1075.30" cy="801.50" r="4.6" fill="#9b9ca0"/>
<circle cx="1086.60" cy="804.30" r="4.6" fill="#9b9ca0"/>
<circle cx="1086.60" cy="824.10" r="4.6" fill="#9b9ca0"/>
<circle cx="1075.30" cy="832.00" r="4.6" fill="#9b9ca0"/>
<circle cx="1086.60" cy="838.80" r="4.6" fill="#9b9ca0"/>
<circle cx="1075.30" cy="846.80" r="4.6" fill="#9b9ca0"/>
<circle cx="1115.30" cy="839.20" r="4.6" fill="#9b9ca0"/>
<circle cx="1106.80" cy="848.30" r="4.6" fill="#9b9ca0"/>
<circle cx="1141.40" cy="848.30" r="4.6" fill="#9b9ca0"/>
<circle cx="1115.30" cy="852.40" r="4.6" fill="#9b9ca0"/>
<circle cx="1124.40" cy="852.10" r="4.6" fill="#9b9ca0"/>
<circle cx="1133.30" cy="852.10" r="4.6" fill="#9b9ca0"/>
<circle cx="1124.40" cy="865.30" r="4.6" fill="#9b9ca0"/>
<circle cx="1124.40" cy="877.00" r="4.6" fill="#9b9ca0"/>
<circle cx="1124.40" cy="894.00" r="4.6" fill="#9b9ca0"/>
<circle cx="1124.40" cy="905.30" r="4.6" fill="#9b9ca0"/>
<rect x="862.65" y="682.30" width="2.80" height="6.50" fill="#231f20"/>
<rect x="852.05" y="680.90" width="24.00" height="2.80" fill="#231f20"/>
<text x="863.20" y="646.20" font-size="24" text-anchor="middle" fill="#000" font-weight="normal" font-style="normal" >a</text>
<rect x="905.45" y="772.20" width="2.80" height="14.00" fill="#231f20"/>
<rect x="894.85" y="770.80" width="24.00" height="2.80" fill="#231f20"/>
<text x="906.60" y="716.30" font-size="24" text-anchor="middle" fill="#000" font-weight="normal" font-style="normal" >b</text>
<rect x="971.45" y="772.20" width="2.80" height="7.60" fill="#231f20"/>
<rect x="960.85" y="770.80" width="24.00" height="2.80" fill="#231f20"/>
<text x="973.10" y="742.40" font-size="24" text-anchor="middle" fill="#000" font-weight="normal" font-style="normal" >b</text>
<rect x="1013.70" y="831.70" width="2.80" height="9.80" fill="#231f20"/>
<rect x="1003.10" y="830.30" width="24.00" height="2.80" fill="#231f20"/>
<text x="1015.00" y="787.30" font-size="24" text-anchor="middle" fill="#000" font-weight="normal" font-style="normal" >c</text>
<rect x="1079.00" y="806.20" width="2.80" height="8.50" fill="#231f20"/>
<rect x="1068.40" y="804.80" width="24.00" height="2.80" fill="#231f20"/>
<text x="1079.50" y="777.80" font-size="24" text-anchor="middle" fill="#000" font-weight="normal" font-style="normal" >d</text>
<rect x="1122.00" y="856.60" width="2.80" height="8.60" fill="#231f20"/>
<rect x="1111.40" y="855.20" width="24.00" height="2.80" fill="#231f20"/>
<text x="1124.60" y="829.80" font-size="24" text-anchor="middle" fill="#000" font-weight="normal" font-style="normal" >c</text>
<text x="875.40" y="951.10" font-size="25.5" text-anchor="middle" fill="#000" font-weight="normal" font-style="normal" >0</text>
<text x="992.50" y="952.90" font-size="25.5" text-anchor="middle" fill="#000" font-weight="normal" font-style="normal" >10</text>
<text x="1098.30" y="952.90" font-size="25.5" text-anchor="middle" fill="#000" font-weight="normal" font-style="normal" >100</text>
<text x="837.20" y="595.50" font-size="32" text-anchor="start" fill="#000" font-weight="normal" font-style="italic" >RR22-OX L9</text>
<rect x="1012.10" y="612.60" width="17.80" height="16.90" fill="#231f20"/>
<rect x="1014.70" y="615.20" width="12.60" height="11.70" fill="#fff"/>
<text x="1038.40" y="628.30" font-size="20.5" text-anchor="start" fill="#000" font-weight="normal" font-style="normal" >WT</text>
<rect x="1088.70" y="612.60" width="18.70" height="16.90" fill="#231f20"/>
<text x="1115.40" y="628.30" font-size="20.5" text-anchor="start" fill="#000" font-weight="normal" font-style="normal" >OX</text>
<text x="0" y="0" font-size="25" text-anchor="middle" transform="translate(79.1,761.2) rotate(-90)">Root Length, cm</text>
<text x="66.00" y="957.50" font-size="22.5" text-anchor="start" fill="#000" font-weight="bold" font-style="normal" >BA (nM)</text>
<rect x="147.30" y="1124.70" width="42.40" height="248.10" fill="#231f20"/>
<rect x="150.00" y="1127.40" width="37.00" height="244.00" fill="#fff"/>
<rect x="189.70" y="1169.70" width="43.90" height="203.10" fill="#231f20"/>
<rect x="256.50" y="1238.30" width="42.20" height="134.50" fill="#231f20"/>
<rect x="259.20" y="1241.00" width="36.80" height="130.40" fill="#fff"/>
<rect x="298.70" y="1330.30" width="44.00" height="42.50" fill="#231f20"/>
<rect x="365.40" y="1344.30" width="42.20" height="28.50" fill="#231f20"/>
<rect x="368.10" y="1347.00" width="36.80" height="24.40" fill="#fff"/>
<rect x="407.60" y="1358.90" width="44.40" height="13.90" fill="#231f20"/>
<rect x="134.15" y="1050.15" width="2.70" height="322.65" fill="#231f20"/>
<rect x="463.85" y="1050.15" width="2.70" height="325.15" fill="#231f20"/>
<rect x="134.15" y="1050.15" width="332.40" height="2.70" fill="#231f20"/>
<rect x="122.00" y="1371.30" width="344.55" height="3.00" fill="#231f20"/>
<rect x="122.00" y="1371.40" width="13.50" height="2.80" fill="#231f20"/>
<text x="120.50" y="1381.80" font-size="25.5" text-anchor="end" fill="#000" font-weight="normal" font-style="normal" >0</text>
<rect x="122.00" y="1302.60" width="13.50" height="2.80" fill="#231f20"/>
<text x="120.50" y="1313.00" font-size="25.5" text-anchor="end" fill="#000" font-weight="normal" font-style="normal" >3</text>
<rect x="122.00" y="1233.80" width="13.50" height="2.80" fill="#231f20"/>
<text x="120.50" y="1244.20" font-size="25.5" text-anchor="end" fill="#000" font-weight="normal" font-style="normal" >6</text>
<rect x="122.00" y="1165.00" width="13.50" height="2.80" fill="#231f20"/>
<text x="120.50" y="1175.40" font-size="25.5" text-anchor="end" fill="#000" font-weight="normal" font-style="normal" >9</text>
<rect x="122.00" y="1096.20" width="13.50" height="2.80" fill="#231f20"/>
<text x="120.50" y="1106.60" font-size="25.5" text-anchor="end" fill="#000" font-weight="normal" font-style="normal" >12</text>
<rect x="244.40" y="1372.80" width="2.80" height="21.00" fill="#231f20"/>
<rect x="353.70" y="1372.80" width="2.80" height="18.30" fill="#231f20"/>
<circle cx="168.50" cy="1086.20" r="4.6" fill="#9b9ca0"/>
<circle cx="168.50" cy="1101.20" r="4.6" fill="#9b9ca0"/>
<circle cx="151.20" cy="1108.10" r="4.6" fill="#9b9ca0"/>
<circle cx="185.80" cy="1107.40" r="4.6" fill="#9b9ca0"/>
<circle cx="168.50" cy="1130.50" r="4.6" fill="#9b9ca0"/>
<circle cx="168.50" cy="1143.40" r="4.6" fill="#9b9ca0"/>
<circle cx="159.30" cy="1153.60" r="4.6" fill="#9b9ca0"/>
<circle cx="177.30" cy="1153.60" r="4.6" fill="#9b9ca0"/>
<circle cx="168.50" cy="1120.00" r="4.6" fill="#9b9ca0"/>
<circle cx="212.40" cy="1096.60" r="4.6" fill="#9b9ca0"/>
<circle cx="212.40" cy="1106.50" r="4.6" fill="#9b9ca0"/>
<circle cx="212.40" cy="1120.30" r="4.6" fill="#9b9ca0"/>
<circle cx="202.70" cy="1159.60" r="4.6" fill="#9b9ca0"/>
<circle cx="221.60" cy="1152.70" r="4.6" fill="#9b9ca0"/>
<circle cx="212.40" cy="1175.70" r="4.6" fill="#9b9ca0"/>
<circle cx="212.40" cy="1191.90" r="4.6" fill="#9b9ca0"/>
<circle cx="212.40" cy="1242.00" r="4.6" fill="#9b9ca0"/>
<circle cx="212.40" cy="1279.00" r="4.6" fill="#9b9ca0"/>
<circle cx="283.20" cy="1201.00" r="4.6" fill="#9b9ca0"/>
<circle cx="272.10" cy="1208.80" r="4.6" fill="#9b9ca0"/>
<circle cx="260.40" cy="1223.70" r="4.6" fill="#9b9ca0"/>
<circle cx="272.10" cy="1232.50" r="4.6" fill="#9b9ca0"/>
<circle cx="260.40" cy="1236.80" r="4.6" fill="#9b9ca0"/>
<circle cx="283.20" cy="1237.40" r="4.6" fill="#9b9ca0"/>
<circle cx="294.80" cy="1237.90" r="4.6" fill="#9b9ca0"/>
<circle cx="272.10" cy="1243.20" r="4.6" fill="#9b9ca0"/>
<circle cx="283.20" cy="1247.70" r="4.6" fill="#9b9ca0"/>
<circle cx="277.30" cy="1297.00" r="4.6" fill="#9b9ca0"/>
<circle cx="321.30" cy="1201.00" r="4.6" fill="#9b9ca0"/>
<circle cx="321.30" cy="1320.40" r="4.6" fill="#9b9ca0"/>
<circle cx="321.30" cy="1332.60" r="4.6" fill="#9b9ca0"/>
<circle cx="304.20" cy="1348.20" r="4.6" fill="#9b9ca0"/>
<circle cx="321.30" cy="1346.80" r="4.6" fill="#9b9ca0"/>
<circle cx="338.80" cy="1350.70" r="4.6" fill="#9b9ca0"/>
<circle cx="329.80" cy="1363.20" r="4.6" fill="#9b9ca0"/>
<circle cx="312.90" cy="1373.50" r="4.6" fill="#9b9ca0"/>
<circle cx="369.90" cy="1340.40" r="4.6" fill="#9b9ca0"/>
<circle cx="376.10" cy="1337.90" r="4.6" fill="#9b9ca0"/>
<circle cx="386.20" cy="1335.60" r="4.6" fill="#9b9ca0"/>
<circle cx="392.60" cy="1331.70" r="4.6" fill="#9b9ca0"/>
<circle cx="403.30" cy="1339.80" r="4.6" fill="#9b9ca0"/>
<circle cx="386.20" cy="1345.70" r="4.6" fill="#9b9ca0"/>
<circle cx="392.60" cy="1356.60" r="4.6" fill="#9b9ca0"/>
<circle cx="381.00" cy="1364.70" r="4.6" fill="#9b9ca0"/>
<circle cx="440.30" cy="1330.70" r="4.6" fill="#9b9ca0"/>
<circle cx="419.90" cy="1335.60" r="4.6" fill="#9b9ca0"/>
<circle cx="433.50" cy="1338.50" r="4.6" fill="#9b9ca0"/>
<circle cx="426.70" cy="1342.90" r="4.6" fill="#9b9ca0"/>
<circle cx="414.00" cy="1372.50" r="4.6" fill="#9b9ca0"/>
<circle cx="419.90" cy="1368.20" r="4.6" fill="#9b9ca0"/>
<circle cx="433.50" cy="1369.00" r="4.6" fill="#9b9ca0"/>
<circle cx="426.70" cy="1373.50" r="4.6" fill="#9b9ca0"/>
<circle cx="440.30" cy="1372.50" r="4.6" fill="#9b9ca0"/>
<circle cx="447.70" cy="1373.50" r="4.6" fill="#9b9ca0"/>
<rect x="167.10" y="1113.90" width="2.80" height="11.80" fill="#231f20"/>
<rect x="156.50" y="1112.50" width="24.00" height="2.80" fill="#231f20"/>
<text x="167.10" y="1077.60" font-size="24" text-anchor="middle" fill="#000" font-weight="normal" font-style="normal" >a</text>
<rect x="210.25" y="1149.00" width="2.80" height="21.70" fill="#231f20"/>
<rect x="199.65" y="1147.60" width="24.00" height="2.80" fill="#231f20"/>
<text x="212.80" y="1087.70" font-size="24" text-anchor="middle" fill="#000" font-weight="normal" font-style="normal" >b</text>
<rect x="276.20" y="1228.20" width="2.80" height="11.10" fill="#231f20"/>
<rect x="265.60" y="1226.80" width="24.00" height="2.80" fill="#231f20"/>
<text x="277.90" y="1193.20" font-size="24" text-anchor="middle" fill="#000" font-weight="normal" font-style="normal" >c</text>
<rect x="319.30" y="1310.70" width="2.80" height="20.60" fill="#231f20"/>
<rect x="308.70" y="1309.30" width="24.00" height="2.80" fill="#231f20"/>
<text x="320.70" y="1297.60" font-size="24" text-anchor="middle" fill="#000" font-weight="normal" font-style="normal" >d</text>
<rect x="385.10" y="1341.00" width="2.80" height="4.30" fill="#231f20"/>
<rect x="374.50" y="1339.60" width="24.00" height="2.80" fill="#231f20"/>
<text x="387.40" y="1322.90" font-size="24" text-anchor="middle" fill="#000" font-weight="normal" font-style="normal" >d</text>
<rect x="428.40" y="1352.00" width="2.80" height="7.90" fill="#231f20"/>
<rect x="417.80" y="1350.60" width="24.00" height="2.80" fill="#231f20"/>
<text x="428.60" y="1325.80" font-size="24" text-anchor="middle" fill="#000" font-weight="normal" font-style="normal" >d</text>
<text x="180.00" y="1400.00" font-size="25.5" text-anchor="middle" fill="#000" font-weight="normal" font-style="normal" >0</text>
<text x="297.40" y="1401.80" font-size="25.5" text-anchor="middle" fill="#000" font-weight="normal" font-style="normal" >10</text>
<text x="404.30" y="1401.80" font-size="25.5" text-anchor="middle" fill="#000" font-weight="normal" font-style="normal" >100</text>
<text x="142.50" y="1040.50" font-size="32" text-anchor="start" fill="#000" font-weight="normal" font-style="italic" >RR22-OX L4</text>
<rect x="318.90" y="1061.10" width="17.80" height="16.70" fill="#231f20"/>
<rect x="321.50" y="1063.70" width="12.60" height="11.50" fill="#fff"/>
<text x="345.20" y="1076.60" font-size="20.5" text-anchor="start" fill="#000" font-weight="normal" font-style="normal" >WT</text>
<rect x="395.50" y="1061.10" width="18.70" height="16.70" fill="#231f20"/>
<text x="422.20" y="1076.60" font-size="20.5" text-anchor="start" fill="#000" font-weight="normal" font-style="normal" >OX</text>
<rect x="498.00" y="1150.50" width="42.50" height="222.80" fill="#231f20"/>
<rect x="500.70" y="1153.20" width="37.10" height="218.70" fill="#fff"/>
<rect x="540.50" y="1326.30" width="43.70" height="47.00" fill="#231f20"/>
<rect x="607.00" y="1205.80" width="41.10" height="167.50" fill="#231f20"/>
<rect x="609.70" y="1208.50" width="35.70" height="163.40" fill="#fff"/>
<rect x="648.10" y="1342.70" width="43.60" height="30.60" fill="#231f20"/>
<rect x="714.70" y="1305.20" width="42.00" height="68.10" fill="#231f20"/>
<rect x="717.40" y="1307.90" width="36.60" height="64.00" fill="#fff"/>
<rect x="757.00" y="1356.80" width="43.30" height="16.50" fill="#231f20"/>
<rect x="485.15" y="1050.65" width="2.70" height="322.65" fill="#231f20"/>
<rect x="812.05" y="1050.65" width="2.70" height="325.15" fill="#231f20"/>
<rect x="485.15" y="1050.65" width="329.60" height="2.70" fill="#231f20"/>
<rect x="473.00" y="1371.80" width="341.75" height="3.00" fill="#231f20"/>
<rect x="473.00" y="1371.90" width="13.50" height="2.80" fill="#231f20"/>
<rect x="473.00" y="1303.10" width="13.50" height="2.80" fill="#231f20"/>
<rect x="473.00" y="1234.30" width="13.50" height="2.80" fill="#231f20"/>
<rect x="473.00" y="1165.50" width="13.50" height="2.80" fill="#231f20"/>
<rect x="473.00" y="1096.70" width="13.50" height="2.80" fill="#231f20"/>
<rect x="594.00" y="1373.30" width="2.80" height="21.00" fill="#231f20"/>
<rect x="702.10" y="1373.30" width="2.80" height="18.30" fill="#231f20"/>
<circle cx="501.80" cy="1120.30" r="4.6" fill="#9b9ca0"/>
<circle cx="518.80" cy="1121.90" r="4.6" fill="#9b9ca0"/>
<circle cx="527.80" cy="1140.90" r="4.6" fill="#9b9ca0"/>
<circle cx="510.30" cy="1147.60" r="4.6" fill="#9b9ca0"/>
<circle cx="501.80" cy="1158.40" r="4.6" fill="#9b9ca0"/>
<circle cx="518.80" cy="1161.70" r="4.6" fill="#9b9ca0"/>
<circle cx="536.00" cy="1160.10" r="4.6" fill="#9b9ca0"/>
<circle cx="518.80" cy="1185.70" r="4.6" fill="#9b9ca0"/>
<circle cx="562.20" cy="1191.50" r="4.6" fill="#9b9ca0"/>
<circle cx="562.20" cy="1219.20" r="4.6" fill="#9b9ca0"/>
<circle cx="554.00" cy="1337.40" r="4.6" fill="#9b9ca0"/>
<circle cx="570.70" cy="1339.70" r="4.6" fill="#9b9ca0"/>
<circle cx="545.70" cy="1352.00" r="4.6" fill="#9b9ca0"/>
<circle cx="562.20" cy="1355.80" r="4.6" fill="#9b9ca0"/>
<circle cx="579.20" cy="1349.80" r="4.6" fill="#9b9ca0"/>
<circle cx="562.20" cy="1366.10" r="4.6" fill="#9b9ca0"/>
<circle cx="545.70" cy="1372.80" r="4.6" fill="#9b9ca0"/>
<circle cx="579.20" cy="1372.80" r="4.6" fill="#9b9ca0"/>
<circle cx="636.80" cy="1147.20" r="4.6" fill="#9b9ca0"/>
<circle cx="618.20" cy="1156.10" r="4.6" fill="#9b9ca0"/>
<circle cx="627.80" cy="1166.20" r="4.6" fill="#9b9ca0"/>
<circle cx="636.80" cy="1181.90" r="4.6" fill="#9b9ca0"/>
<circle cx="618.20" cy="1187.00" r="4.6" fill="#9b9ca0"/>
<circle cx="627.80" cy="1221.50" r="4.6" fill="#9b9ca0"/>
<circle cx="627.80" cy="1234.00" r="4.6" fill="#9b9ca0"/>
<circle cx="627.80" cy="1262.40" r="4.6" fill="#9b9ca0"/>
<circle cx="627.80" cy="1284.20" r="4.6" fill="#9b9ca0"/>
<circle cx="670.60" cy="1199.00" r="4.6" fill="#9b9ca0"/>
<circle cx="670.60" cy="1254.90" r="4.6" fill="#9b9ca0"/>
<circle cx="659.30" cy="1364.00" r="4.6" fill="#9b9ca0"/>
<circle cx="676.60" cy="1360.10" r="4.6" fill="#9b9ca0"/>
<circle cx="653.40" cy="1372.90" r="4.6" fill="#9b9ca0"/>
<circle cx="664.30" cy="1372.90" r="4.6" fill="#9b9ca0"/>
<circle cx="670.60" cy="1372.90" r="4.6" fill="#9b9ca0"/>
<circle cx="676.60" cy="1372.90" r="4.6" fill="#9b9ca0"/>
<circle cx="682.00" cy="1372.90" r="4.6" fill="#9b9ca0"/>
<circle cx="687.90" cy="1372.90" r="4.6" fill="#9b9ca0"/>
<circle cx="745.00" cy="1256.00" r="4.6" fill="#9b9ca0"/>
<circle cx="726.50" cy="1258.70" r="4.6" fill="#9b9ca0"/>
<circle cx="726.50" cy="1271.20" r="4.6" fill="#9b9ca0"/>
<circle cx="745.00" cy="1277.90" r="4.6" fill="#9b9ca0"/>
<circle cx="726.50" cy="1299.70" r="4.6" fill="#9b9ca0"/>
<circle cx="745.00" cy="1306.90" r="4.6" fill="#9b9ca0"/>
<circle cx="735.70" cy="1333.80" r="4.6" fill="#9b9ca0"/>
<circle cx="735.70" cy="1360.10" r="4.6" fill="#9b9ca0"/>
<circle cx="735.70" cy="1373.20" r="4.6" fill="#9b9ca0"/>
<circle cx="778.50" cy="1302.70" r="4.6" fill="#9b9ca0"/>
<circle cx="775.20" cy="1335.50" r="4.6" fill="#9b9ca0"/>
<circle cx="782.40" cy="1338.00" r="4.6" fill="#9b9ca0"/>
<circle cx="778.50" cy="1351.40" r="4.6" fill="#9b9ca0"/>
<circle cx="768.40" cy="1368.20" r="4.6" fill="#9b9ca0"/>
<circle cx="761.70" cy="1373.20" r="4.6" fill="#9b9ca0"/>
<circle cx="775.20" cy="1373.20" r="4.6" fill="#9b9ca0"/>
<circle cx="782.40" cy="1373.20" r="4.6" fill="#9b9ca0"/>
<circle cx="789.40" cy="1373.20" r="4.6" fill="#9b9ca0"/>
<circle cx="796.10" cy="1373.20" r="4.6" fill="#9b9ca0"/>
<rect x="517.85" y="1141.60" width="2.80" height="9.90" fill="#231f20"/>
<rect x="507.25" y="1140.20" width="24.00" height="2.80" fill="#231f20"/>
<text x="519.90" y="1102.40" font-size="24" text-anchor="middle" fill="#000" font-weight="normal" font-style="normal" >a</text>
<rect x="560.95" y="1305.00" width="2.80" height="22.30" fill="#231f20"/>
<rect x="550.35" y="1303.60" width="24.00" height="2.80" fill="#231f20"/>
<text x="561.20" y="1292.70" font-size="24" text-anchor="middle" fill="#000" font-weight="normal" font-style="normal" >b</text>
<rect x="626.15" y="1188.60" width="2.80" height="18.20" fill="#231f20"/>
<rect x="615.55" y="1187.20" width="24.00" height="2.80" fill="#231f20"/>
<text x="627.30" y="1133.70" font-size="24" text-anchor="middle" fill="#000" font-weight="normal" font-style="normal" >a</text>
<rect x="668.50" y="1322.50" width="2.80" height="21.20" fill="#231f20"/>
<rect x="657.90" y="1321.10" width="24.00" height="2.80" fill="#231f20"/>
<text x="671.90" y="1300.20" font-size="24" text-anchor="middle" fill="#000" font-weight="normal" font-style="normal" >b</text>
<rect x="734.30" y="1290.10" width="2.80" height="16.10" fill="#231f20"/>
<rect x="723.70" y="1288.70" width="24.00" height="2.80" fill="#231f20"/>
<text x="734.30" y="1239.80" font-size="24" text-anchor="middle" fill="#000" font-weight="normal" font-style="normal" >b</text>
<rect x="777.25" y="1348.40" width="2.80" height="9.40" fill="#231f20"/>
<rect x="766.65" y="1347.00" width="24.00" height="2.80" fill="#231f20"/>
<text x="778.70" y="1286.00" font-size="24" text-anchor="middle" fill="#000" font-weight="normal" font-style="normal" >b</text>
<text x="531.00" y="1400.00" font-size="25.5" text-anchor="middle" fill="#000" font-weight="normal" font-style="normal" >0</text>
<text x="648.00" y="1401.80" font-size="25.5" text-anchor="middle" fill="#000" font-weight="normal" font-style="normal" >10</text>
<text x="753.80" y="1401.80" font-size="25.5" text-anchor="middle" fill="#000" font-weight="normal" font-style="normal" >100</text>
<text x="499.70" y="1040.70" font-size="32" text-anchor="start" fill="#000" font-weight="normal" font-style="italic" >RR22-OX L5</text>
<rect x="667.10" y="1061.10" width="17.80" height="16.70" fill="#231f20"/>
<rect x="669.70" y="1063.70" width="12.60" height="11.50" fill="#fff"/>
<text x="693.40" y="1076.60" font-size="20.5" text-anchor="start" fill="#000" font-weight="normal" font-style="normal" >WT</text>
<rect x="743.70" y="1061.10" width="18.70" height="16.70" fill="#231f20"/>
<text x="770.40" y="1076.60" font-size="20.5" text-anchor="start" fill="#000" font-weight="normal" font-style="normal" >OX</text>
<rect x="848.00" y="1170.70" width="42.00" height="202.60" fill="#231f20"/>
<rect x="850.70" y="1173.40" width="36.60" height="198.50" fill="#fff"/>
<rect x="890.00" y="1263.10" width="44.00" height="110.20" fill="#231f20"/>
<rect x="956.30" y="1340.00" width="40.80" height="33.30" fill="#231f20"/>
<rect x="959.00" y="1342.70" width="35.40" height="29.20" fill="#fff"/>
<rect x="997.10" y="1367.60" width="44.60" height="5.70" fill="#231f20"/>
<rect x="1064.40" y="1358.80" width="42.90" height="14.50" fill="#231f20"/>
<rect x="1067.10" y="1361.50" width="37.50" height="10.40" fill="#fff"/>
<rect x="1107.30" y="1372.20" width="42.80" height="1.10" fill="#231f20"/>
<rect x="835.05" y="1050.15" width="2.70" height="323.15" fill="#231f20"/>
<rect x="1161.15" y="1050.15" width="2.70" height="325.65" fill="#231f20"/>
<rect x="835.05" y="1050.15" width="328.80" height="2.70" fill="#231f20"/>
<rect x="822.90" y="1371.80" width="340.95" height="3.00" fill="#231f20"/>
<rect x="822.90" y="1371.90" width="13.50" height="2.80" fill="#231f20"/>
<rect x="822.90" y="1303.10" width="13.50" height="2.80" fill="#231f20"/>
<rect x="822.90" y="1234.30" width="13.50" height="2.80" fill="#231f20"/>
<rect x="822.90" y="1165.50" width="13.50" height="2.80" fill="#231f20"/>
<rect x="822.90" y="1096.70" width="13.50" height="2.80" fill="#231f20"/>
<rect x="942.90" y="1373.30" width="2.80" height="21.00" fill="#231f20"/>
<rect x="1052.20" y="1373.30" width="2.80" height="18.30" fill="#231f20"/>
<circle cx="868.70" cy="1086.20" r="4.6" fill="#9b9ca0"/>
<circle cx="886.40" cy="1159.50" r="4.6" fill="#9b9ca0"/>
<circle cx="851.40" cy="1168.50" r="4.6" fill="#9b9ca0"/>
<circle cx="886.40" cy="1168.50" r="4.6" fill="#9b9ca0"/>
<circle cx="868.70" cy="1176.90" r="4.6" fill="#9b9ca0"/>
<circle cx="851.40" cy="1183.30" r="4.6" fill="#9b9ca0"/>
<circle cx="868.70" cy="1190.90" r="4.6" fill="#9b9ca0"/>
<circle cx="886.40" cy="1190.30" r="4.6" fill="#9b9ca0"/>
<circle cx="868.70" cy="1213.30" r="4.6" fill="#9b9ca0"/>
<circle cx="868.70" cy="1162.00" r="4.6" fill="#9b9ca0"/>
<circle cx="912.40" cy="1168.50" r="4.6" fill="#9b9ca0"/>
<circle cx="912.40" cy="1201.00" r="4.6" fill="#9b9ca0"/>
<circle cx="895.60" cy="1244.00" r="4.6" fill="#9b9ca0"/>
<circle cx="918.00" cy="1247.70" r="4.6" fill="#9b9ca0"/>
<circle cx="906.00" cy="1252.40" r="4.6" fill="#9b9ca0"/>
<circle cx="929.20" cy="1251.90" r="4.6" fill="#9b9ca0"/>
<circle cx="912.40" cy="1294.40" r="4.6" fill="#9b9ca0"/>
<circle cx="918.00" cy="1347.00" r="4.6" fill="#9b9ca0"/>
<circle cx="906.00" cy="1354.90" r="4.6" fill="#9b9ca0"/>
<circle cx="977.30" cy="1299.50" r="4.6" fill="#9b9ca0"/>
<circle cx="977.30" cy="1317.70" r="4.6" fill="#9b9ca0"/>
<circle cx="960.50" cy="1342.00" r="4.6" fill="#9b9ca0"/>
<circle cx="971.70" cy="1338.70" r="4.6" fill="#9b9ca0"/>
<circle cx="982.90" cy="1345.60" r="4.6" fill="#9b9ca0"/>
<circle cx="994.10" cy="1338.70" r="4.6" fill="#9b9ca0"/>
<circle cx="971.70" cy="1349.30" r="4.6" fill="#9b9ca0"/>
<circle cx="982.90" cy="1356.00" r="4.6" fill="#9b9ca0"/>
<circle cx="971.70" cy="1363.30" r="4.6" fill="#9b9ca0"/>
<circle cx="1019.80" cy="1313.40" r="4.6" fill="#9b9ca0"/>
<circle cx="1002.70" cy="1373.90" r="4.6" fill="#9b9ca0"/>
<circle cx="1008.20" cy="1368.90" r="4.6" fill="#9b9ca0"/>
<circle cx="1014.00" cy="1373.90" r="4.6" fill="#9b9ca0"/>
<circle cx="1019.80" cy="1373.90" r="4.6" fill="#9b9ca0"/>
<circle cx="1026.60" cy="1373.90" r="4.6" fill="#9b9ca0"/>
<circle cx="1032.40" cy="1373.90" r="4.6" fill="#9b9ca0"/>
<circle cx="1038.00" cy="1373.90" r="4.6" fill="#9b9ca0"/>
<circle cx="1080.30" cy="1333.60" r="4.6" fill="#9b9ca0"/>
<circle cx="1090.90" cy="1342.40" r="4.6" fill="#9b9ca0"/>
<circle cx="1068.20" cy="1352.00" r="4.6" fill="#9b9ca0"/>
<circle cx="1080.30" cy="1347.50" r="4.6" fill="#9b9ca0"/>
<circle cx="1080.30" cy="1358.00" r="4.6" fill="#9b9ca0"/>
<circle cx="1090.90" cy="1357.50" r="4.6" fill="#9b9ca0"/>
<circle cx="1080.30" cy="1367.60" r="4.6" fill="#9b9ca0"/>
<circle cx="1068.20" cy="1373.20" r="4.6" fill="#9b9ca0"/>
<circle cx="1090.90" cy="1373.20" r="4.6" fill="#9b9ca0"/>
<circle cx="1103.00" cy="1373.20" r="4.6" fill="#9b9ca0"/>
<circle cx="1129.20" cy="1353.00" r="4.6" fill="#9b9ca0"/>
<circle cx="1111.00" cy="1373.90" r="4.6" fill="#9b9ca0"/>
<circle cx="1117.00" cy="1373.90" r="4.6" fill="#9b9ca0"/>
<circle cx="1123.00" cy="1373.90" r="4.6" fill="#9b9ca0"/>
<circle cx="1129.00" cy="1373.90" r="4.6" fill="#9b9ca0"/>
<circle cx="1135.00" cy="1373.90" r="4.6" fill="#9b9ca0"/>
<circle cx="1141.00" cy="1373.90" r="4.6" fill="#9b9ca0"/>
<circle cx="1147.00" cy="1373.90" r="4.6" fill="#9b9ca0"/>
<rect x="867.60" y="1159.50" width="2.80" height="12.20" fill="#231f20"/>
<rect x="857.00" y="1158.10" width="24.00" height="2.80" fill="#231f20"/>
<text x="867.80" y="1133.80" font-size="24" text-anchor="middle" fill="#000" font-weight="normal" font-style="normal" >a</text>
<rect x="910.60" y="1242.10" width="2.80" height="22.00" fill="#231f20"/>
<rect x="900.00" y="1240.70" width="24.00" height="2.80" fill="#231f20"/>
<text x="913.30" y="1155.30" font-size="24" text-anchor="middle" fill="#000" font-weight="normal" font-style="normal" >b</text>
<rect x="975.30" y="1333.00" width="2.80" height="8.00" fill="#231f20"/>
<rect x="964.70" y="1331.60" width="24.00" height="2.80" fill="#231f20"/>
<text x="977.10" y="1288.30" font-size="24" text-anchor="middle" fill="#000" font-weight="normal" font-style="normal" >c</text>
<rect x="1018.00" y="1360.60" width="2.80" height="8.00" fill="#231f20"/>
<rect x="1007.40" y="1359.20" width="24.00" height="2.80" fill="#231f20"/>
<text x="1021.00" y="1303.40" font-size="24" text-anchor="middle" fill="#000" font-weight="normal" font-style="normal" >c</text>
<rect x="1084.45" y="1353.00" width="2.80" height="6.80" fill="#231f20"/>
<rect x="1073.85" y="1351.60" width="24.00" height="2.80" fill="#231f20"/>
<text x="1083.70" y="1321.00" font-size="24" text-anchor="middle" fill="#000" font-weight="normal" font-style="normal" >c</text>
<rect x="1127.30" y="1368.90" width="2.80" height="4.30" fill="#231f20"/>
<rect x="1116.70" y="1367.50" width="24.00" height="2.80" fill="#231f20"/>
<text x="1128.00" y="1341.20" font-size="24" text-anchor="middle" fill="#000" font-weight="normal" font-style="normal" >c</text>
<text x="880.10" y="1400.00" font-size="25.5" text-anchor="middle" fill="#000" font-weight="normal" font-style="normal" >0</text>
<text x="997.50" y="1401.80" font-size="25.5" text-anchor="middle" fill="#000" font-weight="normal" font-style="normal" >10</text>
<text x="1103.50" y="1401.80" font-size="25.5" text-anchor="middle" fill="#000" font-weight="normal" font-style="normal" >100</text>
<text x="839.60" y="1040.70" font-size="32" text-anchor="start" fill="#000" font-weight="normal" font-style="italic" >RR22-OX L9</text>
<rect x="1016.20" y="1061.40" width="17.80" height="16.80" fill="#231f20"/>
<rect x="1018.80" y="1064.00" width="12.60" height="11.60" fill="#fff"/>
<text x="1042.50" y="1077.00" font-size="20.5" text-anchor="start" fill="#000" font-weight="normal" font-style="normal" >WT</text>
<rect x="1092.80" y="1061.40" width="18.70" height="16.80" fill="#231f20"/>
<text x="1119.50" y="1077.00" font-size="20.5" text-anchor="start" fill="#000" font-weight="normal" font-style="normal" >OX</text>
<text x="0" y="0" font-size="25" text-anchor="middle" transform="translate(78.1,1210) rotate(-90)">Lateral roots per cm</text>
<text x="66.00" y="1404.60" font-size="22.5" text-anchor="start" fill="#000" font-weight="bold" font-style="normal" >BA (nM)</text>
</svg></body></html>
